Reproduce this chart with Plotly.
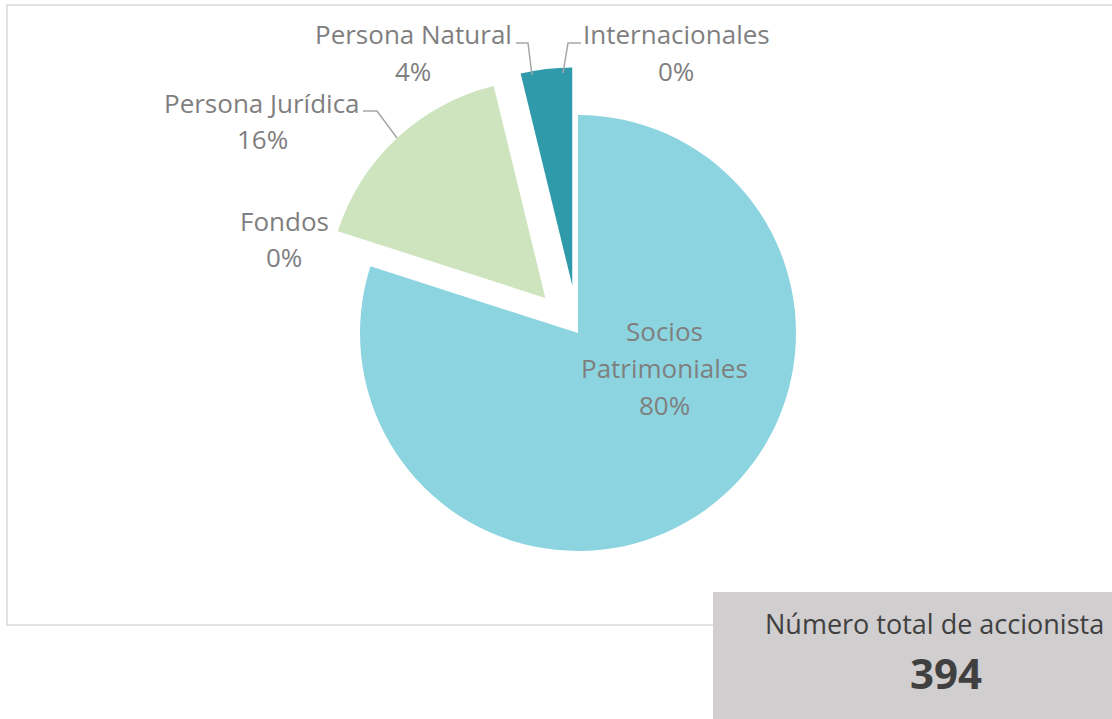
import plotly.graph_objects as go

# ---- data ----
categories = ["Socios Patrimoniales", "Fondos", "Persona Jurídica", "Persona Natural", "Internacionales"]
shareholders = [315, 0, 64, 15, 0]
label_lines = [["Socios", "Patrimoniales"], ["Fondos"], ["Persona Jurídica"], ["Persona Natural"], ["Internacionales"]]
slice_colors = ["#8CD5E0", "#8CD5E0", "#CDE4BE", "#2F9AAA", "#2F9AAA"]
slice_pull = [0, 0.22, 0.22, 0.22, 0]
box_title = "Número total de accionista"

W, H = 1112, 719
total = sum(shareholders)
pcts = [round(v / total * 100) for v in shareholders]


def px(x):
    return x / W


def py(y):
    return 1 - y / H


# pie geometry (pixels)
R, CX, CY = 218, 578, 333
half = R * (1 + max(slice_pull))

FONT = "Open Sans, Lato, sans-serif"
LBL = "#7F7F7F"

fig = go.Figure(go.Pie(
    labels=categories,
    values=shareholders,
    sort=False,
    direction="clockwise",
    rotation=0,
    pull=slice_pull,
    marker=dict(colors=slice_colors, line=dict(width=0)),
    textinfo="none",
    hoverinfo="label+percent",
    showlegend=False,
    domain=dict(x=[px(CX - half), px(CX + half)], y=[py(CY + half), py(CY - half)]),
))

# label layout: (center x, first line center y, line step) in pixels
label_pos = [(664, 331, 37), (284, 221, 36), (262, 103, 36), (413, 34, 37), (676, 34, 37)]

annotations = []
for i, (cx, cy, step) in enumerate(label_pos):
    lines = label_lines[i] + [f"{pcts[i]}%"]
    for k, t in enumerate(lines):
        annotations.append(dict(
            x=px(cx), y=py(cy + k * step), xref="paper", yref="paper",
            text=t, showarrow=False, xanchor="center", yanchor="middle",
            font=dict(family=FONT, size=26, color=LBL),
        ))

annotations.append(dict(
    x=px(763), y=py(623), xref="paper", yref="paper", text=box_title,
    showarrow=False, xanchor="left", yanchor="middle",
    font=dict(family=FONT, size=27, color="#404040"),
))
annotations.append(dict(
    x=px(946), y=py(672), xref="paper", yref="paper", text=f"<b>{total}</b>",
    showarrow=False, xanchor="center", yanchor="middle",
    font=dict(family=FONT, size=42, color="#404040"),
))


def path(points):
    return "M " + " L ".join(f"{px(x)},{py(y)}" for x, y in points)


leader = [
    [(363, 111), (377, 111), (397, 138)],
    [(516, 43), (528, 43), (532, 75)],
    [(581, 43), (568, 43), (563, 73)],
]

shapes = [
    dict(type="rect", xref="paper", yref="paper", x0=px(7), x1=1.05, y0=py(625), y1=py(5),
         line=dict(color="#D9D9D9", width=1.5), fillcolor="rgba(0,0,0,0)", layer="below"),
    dict(type="rect", xref="paper", yref="paper", x0=px(713), x1=1.05, y0=-0.05, y1=py(592),
         line=dict(width=0), fillcolor="#D0CECE", layer="below"),
]
for pts in leader:
    shapes.append(dict(type="path", xref="paper", yref="paper", path=path(pts),
                       line=dict(color="#A6A6A6", width=1.5)))

fig.update_layout(
    width=W, height=H,
    margin=dict(l=0, r=0, t=0, b=0),
    paper_bgcolor="white",
    plot_bgcolor="white",
    annotations=annotations,
    shapes=shapes,
)

fig.write_html(
    "out.html",
    config={"displayModeBar": False},
    post_script="document.body.style.margin='0';document.body.style.overflow='hidden';",
)
